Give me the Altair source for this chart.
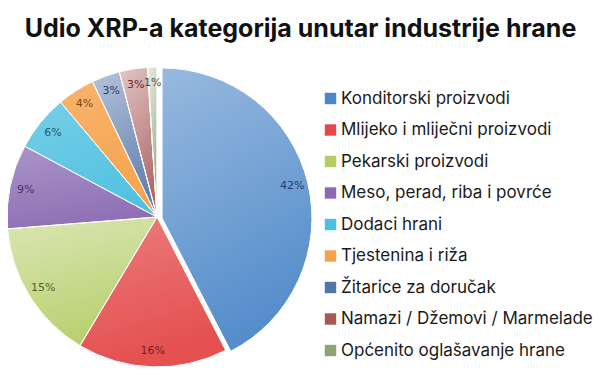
import altair as alt
import pandas as pd

categories = [
    "Konditorski proizvodi",
    "Mlijeko i mliječni proizvodi",
    "Pekarski proizvodi",
    "Meso, perad, riba i povrće",
    "Dodaci hrani",
    "Tjestenina i riža",
    "Žitarice za doručak",
    "Namazi / Džemovi / Marmelade",
    "Općenito oglašavanje hrane",
]
shares = [42, 16, 15, 9, 6, 4, 3, 3, 1]
labels = ["42%", "16%", "15%", "9%", "6%", "4%", "3%", "3%", "1%"]

# styles (kept separate from the data)
colors = ["#4A86C8", "#E44848", "#B4CD64", "#8A6AB2", "#4CC0E0",
          "#F6A24A", "#5475A8", "#A85858", "#8FA273"]
label_colors = ["#23406E", "#7A1F1F", "#55632A", "#4A2F6F", "#1F5F70",
                "#7A4A10", "#2A3F6A", "#6A2A30", "#4A5030"]
highlight = [0.45, 0.3, 0.55, 0.3, 0.25, 0.2, 0.6, 0.7, 0.85]

df = pd.DataFrame({
    "cat": categories,
    "share": shares,
    "label": labels,
    "lc": label_colors,
    "hl": highlight,
    "order": list(range(len(categories))),
})

CX, CY = 149, 159
R = 150
EX, EY = 5, 1
FONT = "Inter"

gradient = alt.LinearGradient(
    gradient="linear", x1=0, y1=0, x2=0.3, y2=1,
    stops=[
        alt.GradientStop(offset=0, color="rgba(255,255,255,0.95)"),
        alt.GradientStop(offset=1, color="rgba(255,255,255,0.15)"),
    ],
)

base = (
    alt.Chart(df)
    .transform_window(cum="sum(share)", sort=[alt.SortField("order")], frame=[None, 0])
    .transform_joinaggregate(total="sum(share)")
    .transform_calculate(t0="2*PI*(datum.cum-datum.share)/datum.total")
    .transform_calculate(t1="2*PI*datum.cum/datum.total")
    .transform_calculate(tm="(datum.t0+datum.t1)/2")
)

color_enc = alt.Color(
    "cat:N",
    scale=alt.Scale(domain=categories, range=colors),
    legend=alt.Legend(
        title=None, orient="none", legendX=314, legendY=32,
        symbolType="square", symbolSize=130, symbolStrokeWidth=0,
        symbolOpacity=1,
        labelFont=FONT, labelFontSize=17, labelColor="#1a1a1a",
        labelOffset=2, rowPadding=13.5, labelLimit=400, padding=0,
    ),
)

def arcs(cond, dx, dy):
    pos = dict(x=alt.value(CX + dx), y=alt.value(CY + dy))
    th = dict(theta=alt.Theta("t0:Q", scale=None), theta2=alt.Theta2("t1:Q"))
    main = base.transform_filter(cond).mark_arc(
        radius=R, stroke="white", strokeWidth=1
    ).encode(color=color_enc, **th, **pos)
    over = base.transform_filter(cond).mark_arc(
        radius=R, fill=gradient, stroke="white", strokeWidth=1
    ).encode(opacity=alt.Opacity("hl:Q", scale=None), **th, **pos)
    txt = base.transform_filter(cond).mark_text(
        radius=134, font="DejaVu Sans", fontSize=11
    ).encode(
        theta=alt.Theta("tm:Q", scale=None),
        text="label:N",
        color=alt.Color("lc:N", scale=None),
        **pos,
    )
    return [main, over, txt]

layers = arcs("datum.order > 0", 0, 0) + arcs("datum.order == 0", EX, EY)

chart = (
    alt.layer(*layers)
    .properties(
        width=585,
        height=321,
        autosize=alt.AutoSizeParams(type="none"),
        padding={"left": 0, "top": 50, "right": 0, "bottom": 0},
        title=alt.TitleParams(
            "Udio XRP-a kategorija unutar industrije hrane",
            font=FONT, fontSize=25, fontWeight="bold", color="#111111",
            anchor="middle", baseline="alphabetic", offset=-4,
        ),
    )
    .configure_view(stroke=None)
)

chart.save("out.html", embed_options={"renderer": "svg", "actions": False})
